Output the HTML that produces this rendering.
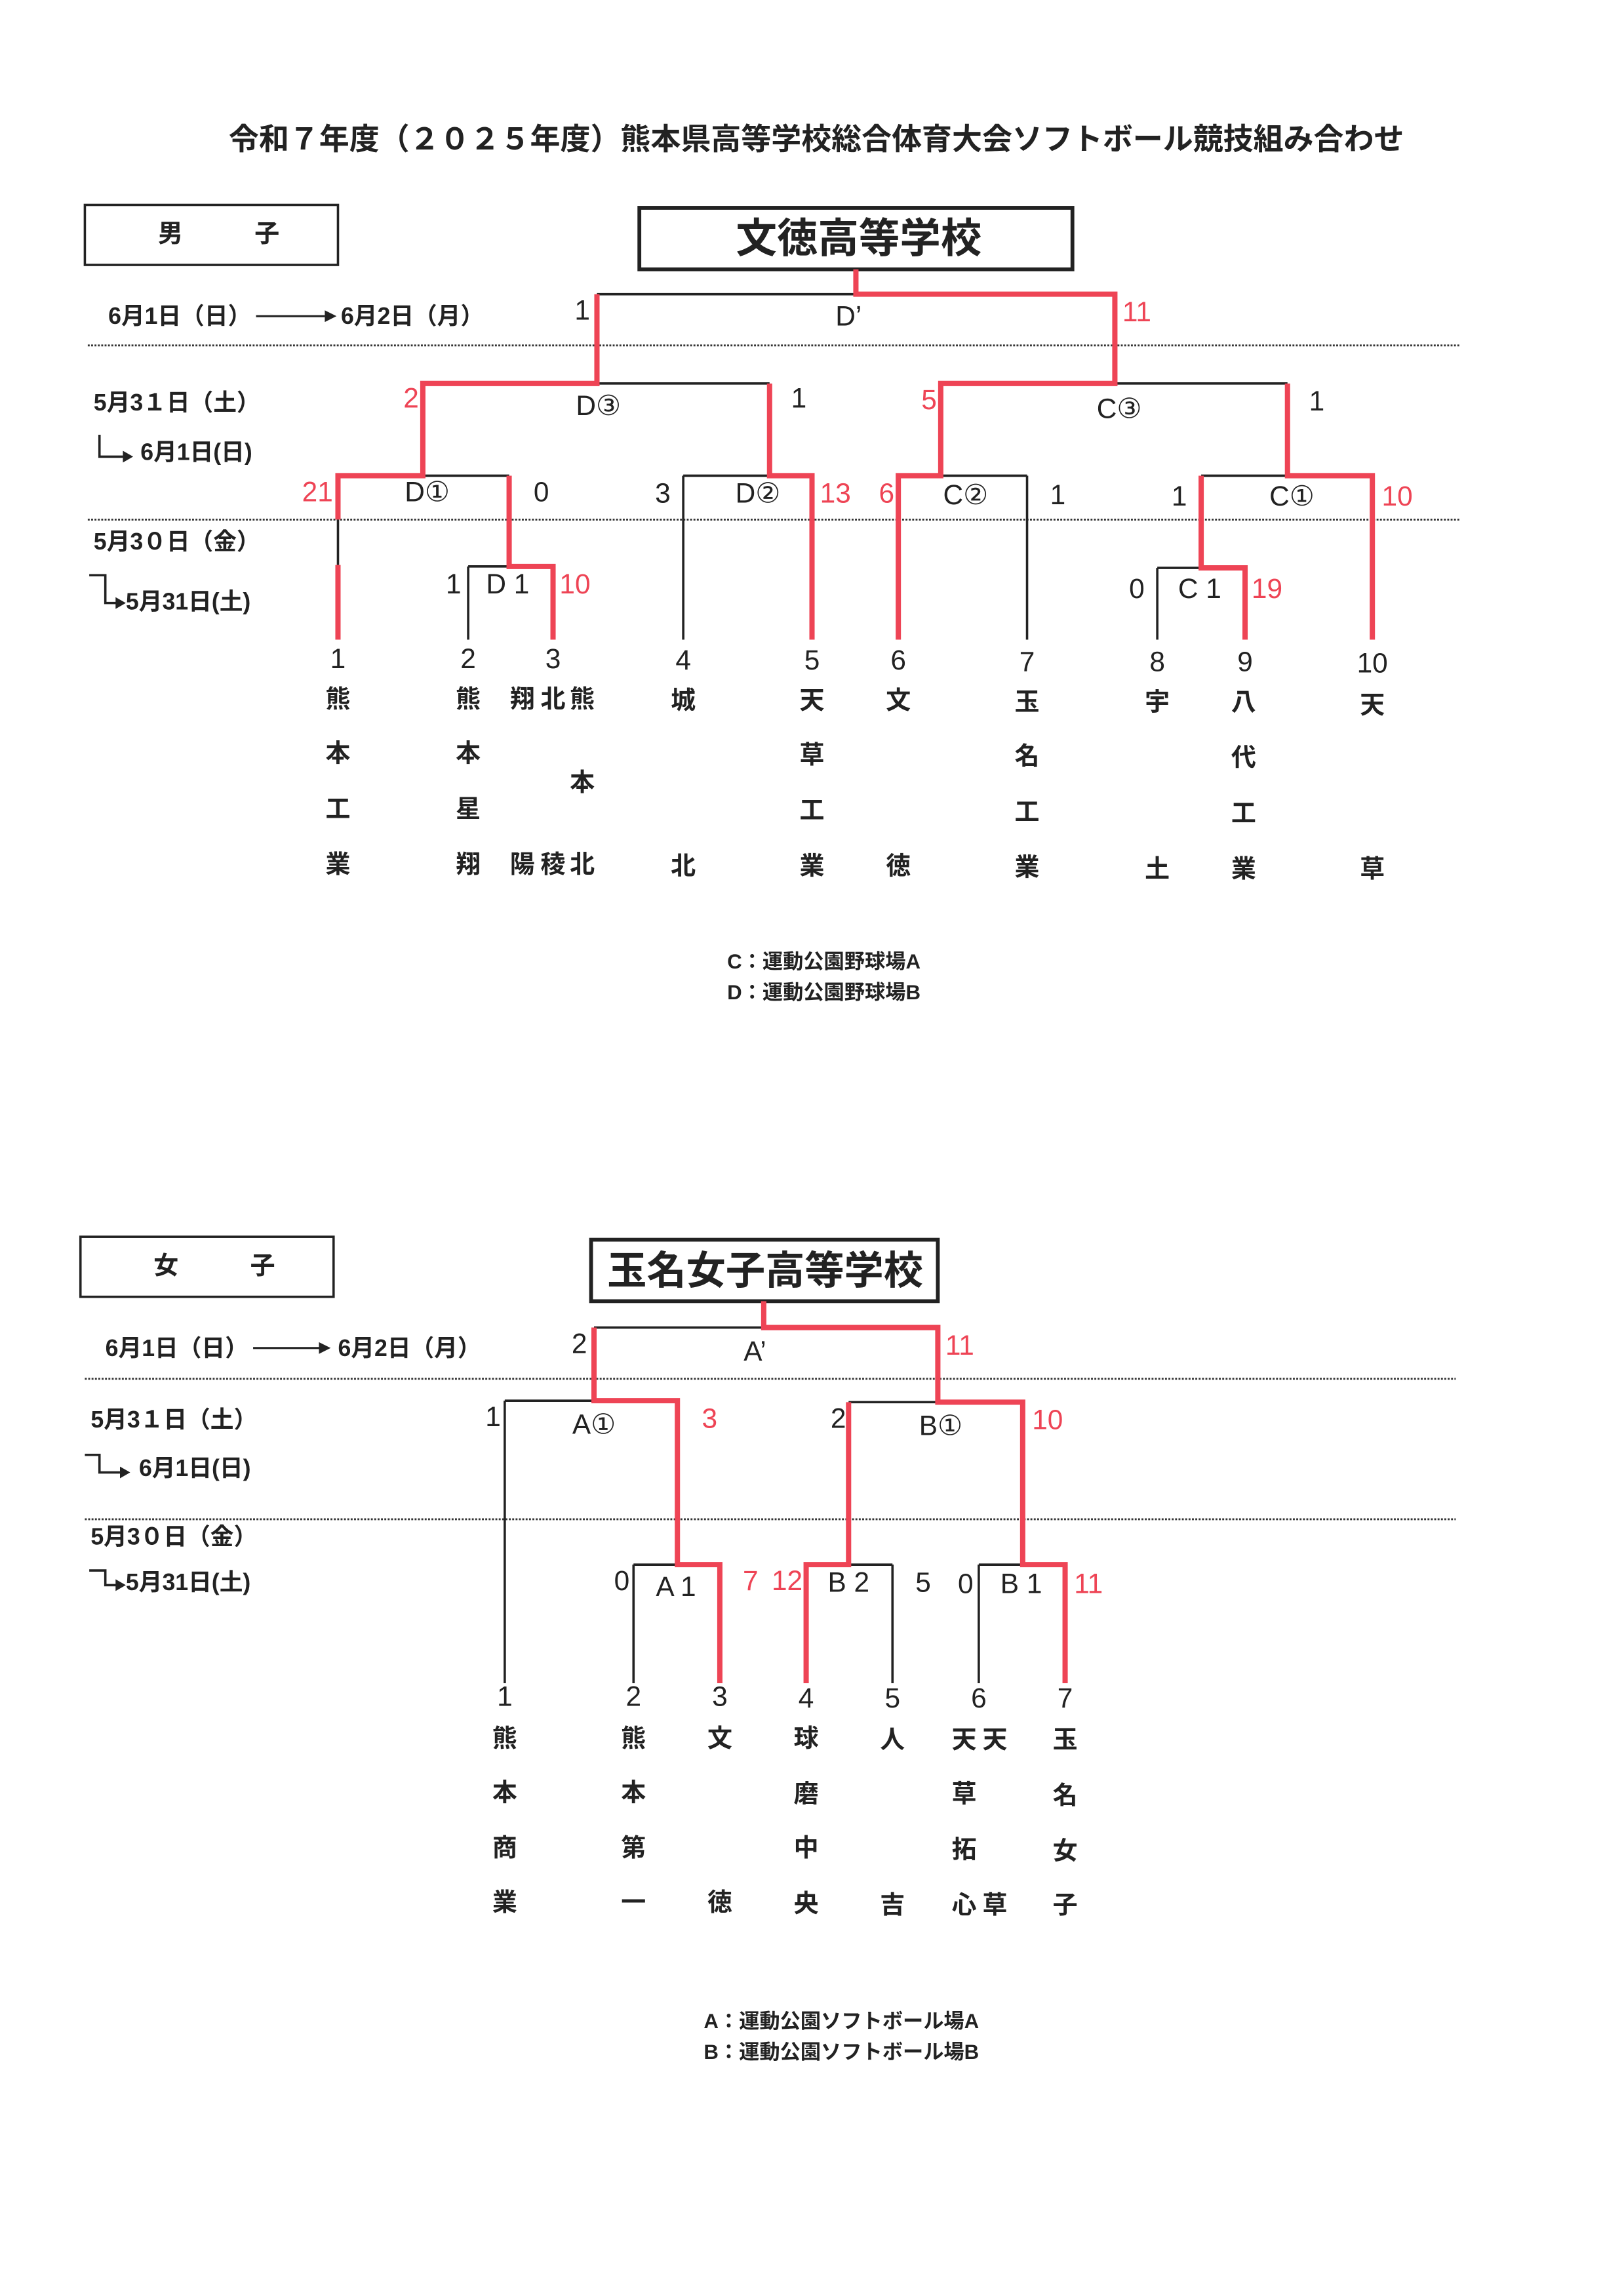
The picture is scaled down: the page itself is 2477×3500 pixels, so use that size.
<!DOCTYPE html>
<html><head><meta charset="utf-8"><style>
html,body{margin:0;padding:0;background:#fff;}
svg{display:block;}
text{font-family:"Liberation Sans","Noto Sans CJK JP",sans-serif;font-weight:bold;fill:#222;dominant-baseline:central;}
.n{font-family:"Liberation Sans Narrow","Liberation Sans",sans-serif;font-weight:normal;font-size:19px;text-anchor:middle;}
.r{fill:#ee4455;}
.nm{font-size:17px;text-anchor:middle;}
.dt{font-size:16px;}
.k{stroke:#222;stroke-width:1.6;fill:none;}
.rd{stroke:#ee4455;stroke-width:3.6;fill:none;stroke-linejoin:miter;}
.dot{stroke:#333;stroke-width:1.3;stroke-dasharray:1.3 1;}
</style></head><body>
<svg width="2477" height="3500" viewBox="0 0 1110 1568" preserveAspectRatio="none">
<rect width="1110" height="1568" fill="#fff"/>
<text x="558" y="95" font-size="20.6" text-anchor="middle">令和７年度（２０２５年度）熊本県高等学校総合体育大会ソフトボール競技組み合わせ</text>

<!-- ===== MALE ===== -->
<rect x="58" y="140" width="173" height="41" fill="none" stroke="#222" stroke-width="1.6"/>
<text x="108" y="160" font-size="17">男</text><text x="174" y="160" font-size="17">子</text>
<rect x="437" y="142" width="296" height="42" fill="none" stroke="#222" stroke-width="2.6"/>
<text x="587" y="163" font-size="28" text-anchor="middle">文徳高等学校</text>

<text x="74" y="216" class="dt">6月1日（日）</text>
<line x1="175" y1="216" x2="222" y2="216" stroke="#222" stroke-width="1.4"/><polygon points="222,212 230,216 222,220" fill="#222"/>
<text x="233" y="216" class="dt">6月2日（月）</text>
<line x1="60" y1="236" x2="998" y2="236" class="dot"/>
<text x="64" y="275" class="dt">5月3１日（土）</text>
<path d="M68 297 V312 H84" class="k"/><polygon points="84,308 91,312 84,316" fill="#222"/>
<text x="96" y="309" class="dt">6月1日(日)</text>
<line x1="60" y1="355" x2="998" y2="355" class="dot"/>
<text x="64" y="370" class="dt">5月3０日（金）</text>
<path d="M61 393 H72 V412 H80" class="k"/><polygon points="79,408 86,412 79,416" fill="#222"/>
<text x="86" y="411" class="dt">5月31日(土)</text>

<path d="M408 201 H585 M408 262 H526 M289 325 H348 M320 387 H348 M320 387 V437 M467 325 H526 M467 325 V437 M762 262 H880 M643 325 H702 M702 325 V437 M821 325 H880 M791 388 H821 M791 388 V437 M231 355 V386" class="k"/>
<path d="M585 184 V201 H762 V262 H643 V325 H614 V437" class="rd"/>
<path d="M408 201 V262 H289 V325 H231 V355" class="rd"/>
<path d="M231 386 V437" class="rd"/>
<path d="M526 262 V325 H555 V437" class="rd"/>
<path d="M348 325 V387 H378 V437" class="rd"/>
<path d="M880 262 V325 H938 V437" class="rd"/>
<path d="M821 325 V388 H851 V437" class="rd"/>

<text x="398" y="212" class="n">1</text><text x="580" y="216" class="n">D’</text><text x="777" y="213" class="n r">11</text>
<text x="281" y="272" class="n r">2</text><text x="409" y="277" class="n">D③</text><text x="546" y="272" class="n">1</text>
<text x="217" y="336" class="n r">21</text><text x="292" y="336" class="n">D①</text><text x="370" y="336" class="n">0</text>
<text x="310" y="399" class="n">1</text><text x="347" y="399" class="n">D 1</text><text x="393" y="399" class="n r">10</text>
<text x="453" y="337" class="n">3</text><text x="518" y="337" class="n">D②</text><text x="571" y="337" class="n r">13</text>
<text x="635" y="273" class="n r">5</text><text x="765" y="279" class="n">C③</text><text x="900" y="274" class="n">1</text>
<text x="606" y="337" class="n r">6</text><text x="660" y="338" class="n">C②</text><text x="723" y="338" class="n">1</text>
<text x="806" y="339" class="n">1</text><text x="883" y="339" class="n">C①</text><text x="955" y="339" class="n r">10</text>
<text x="777" y="402" class="n">0</text><text x="820" y="402" class="n">C 1</text><text x="866" y="402" class="n r">19</text>

<text x="231" y="450" class="n">1</text><text x="320" y="450" class="n">2</text><text x="378" y="450" class="n">3</text><text x="467" y="451" class="n">4</text><text x="555" y="451" class="n">5</text><text x="614" y="451" class="n">6</text><text x="702" y="452" class="n">7</text><text x="791" y="452" class="n">8</text><text x="851" y="452" class="n">9</text><text x="938" y="453" class="n">10</text>
<g>
<text x="231" y="478" class="nm">熊</text><text x="231" y="515" class="nm">本</text><text x="231" y="553" class="nm">工</text><text x="231" y="591" class="nm">業</text>
<text x="320" y="478" class="nm">熊</text><text x="320" y="515" class="nm">本</text><text x="320" y="553" class="nm">星</text><text x="320" y="591" class="nm">翔</text>
<text x="357" y="478" class="nm">翔</text><text x="378" y="478" class="nm">北</text><text x="398" y="478" class="nm">熊</text><text x="398" y="535" class="nm">本</text>
<text x="357" y="591" class="nm">陽</text><text x="378" y="591" class="nm">稜</text><text x="398" y="591" class="nm">北</text>
<text x="467" y="479" class="nm">城</text><text x="467" y="592" class="nm">北</text>
<text x="555" y="479" class="nm">天</text><text x="555" y="516" class="nm">草</text><text x="555" y="554" class="nm">工</text><text x="555" y="592" class="nm">業</text>
<text x="614" y="479" class="nm">文</text><text x="614" y="592" class="nm">徳</text>
<text x="702" y="480" class="nm">玉</text><text x="702" y="517" class="nm">名</text><text x="702" y="555" class="nm">工</text><text x="702" y="593" class="nm">業</text>
<text x="791" y="480" class="nm">宇</text><text x="791" y="594" class="nm">土</text>
<text x="850" y="480" class="nm">八</text><text x="850" y="518" class="nm">代</text><text x="850" y="556" class="nm">工</text><text x="850" y="594" class="nm">業</text>
<text x="938" y="482" class="nm">天</text><text x="938" y="594" class="nm">草</text>
</g>
<text x="497" y="657" font-size="14">C：運動公園野球場A</text>
<text x="497" y="678" font-size="14">D：運動公園野球場B</text>

<!-- ===== FEMALE ===== -->
<rect x="55" y="845" width="173" height="41" fill="none" stroke="#222" stroke-width="1.6"/>
<text x="105" y="865" font-size="17">女</text><text x="171" y="865" font-size="17">子</text>
<rect x="404" y="847" width="237" height="42" fill="none" stroke="#222" stroke-width="2.6"/>
<text x="523" y="868" font-size="27" text-anchor="middle">玉名女子高等学校</text>

<text x="72" y="921" class="dt">6月1日（日）</text>
<line x1="173" y1="921" x2="218" y2="921" stroke="#222" stroke-width="1.4"/><polygon points="218,917 226,921 218,925" fill="#222"/>
<text x="231" y="921" class="dt">6月2日（月）</text>
<line x1="58" y1="942" x2="995" y2="942" class="dot"/>
<text x="62" y="970" class="dt">5月3１日（土）</text>
<path d="M58 994 H68 V1006 H82" class="k"/><polygon points="82,1002 89,1006 82,1010" fill="#222"/>
<text x="95" y="1003" class="dt">6月1日(日)</text>
<line x1="58" y1="1038" x2="995" y2="1038" class="dot"/>
<text x="62" y="1050" class="dt">5月3０日（金）</text>
<path d="M61 1073 H72 V1083 H80" class="k"/><polygon points="79,1079 86,1083 79,1087" fill="#222"/>
<text x="86" y="1081" class="dt">5月31日(土)</text>

<path d="M406 907 H522 M345 957 H406 M345 957 V1150 M433 1069 H463 M433 1069 V1150 M580 958 H641 M580 1069 H610 M610 1069 V1150 M669 1069 H699 M669 1069 V1150" class="k"/>
<path d="M522 889 V907 H641 V958 H699 V1069 H728 V1150" class="rd"/>
<path d="M406 907 V957 H463 V1069 H492 V1150" class="rd"/>
<path d="M580 958 V1069 H551 V1150" class="rd"/>

<text x="396" y="918" class="n">2</text><text x="516" y="923" class="n">A’</text><text x="656" y="919" class="n r">11</text>
<text x="337" y="968" class="n">1</text><text x="406" y="973" class="n">A①</text><text x="485" y="969" class="n r">3</text>
<text x="425" y="1080" class="n">0</text><text x="462" y="1084" class="n">A 1</text><text x="513" y="1080" class="n r">7</text>
<text x="573" y="969" class="n">2</text><text x="643" y="974" class="n">B①</text><text x="716" y="970" class="n r">10</text>
<text x="538" y="1080" class="n r">12</text><text x="580" y="1081" class="n">B 2</text><text x="631" y="1081" class="n">5</text>
<text x="660" y="1082" class="n">0</text><text x="698" y="1082" class="n">B 1</text><text x="744" y="1082" class="n r">11</text>

<text x="345" y="1159" class="n">1</text><text x="433" y="1159" class="n">2</text><text x="492" y="1159" class="n">3</text><text x="551" y="1160" class="n">4</text><text x="610" y="1160" class="n">5</text><text x="669" y="1160" class="n">6</text><text x="728" y="1160" class="n">7</text>
<g>
<text x="345" y="1188" class="nm">熊</text><text x="345" y="1225" class="nm">本</text><text x="345" y="1263" class="nm">商</text><text x="345" y="1300" class="nm">業</text>
<text x="433" y="1188" class="nm">熊</text><text x="433" y="1225" class="nm">本</text><text x="433" y="1263" class="nm">第</text><text x="433" y="1300" class="nm">一</text>
<text x="492" y="1188" class="nm">文</text><text x="492" y="1300" class="nm">徳</text>
<text x="551" y="1188" class="nm">球</text><text x="551" y="1226" class="nm">磨</text><text x="551" y="1263" class="nm">中</text><text x="551" y="1301" class="nm">央</text>
<text x="610" y="1189" class="nm">人</text><text x="610" y="1302" class="nm">吉</text>
<text x="659" y="1189" class="nm">天</text><text x="680" y="1189" class="nm">天</text><text x="659" y="1226" class="nm">草</text><text x="659" y="1264" class="nm">拓</text><text x="659" y="1302" class="nm">心</text><text x="680" y="1302" class="nm">草</text>
<text x="728" y="1189" class="nm">玉</text><text x="728" y="1227" class="nm">名</text><text x="728" y="1265" class="nm">女</text><text x="728" y="1302" class="nm">子</text>
</g>
<text x="481" y="1381" font-size="14">A：運動公園ソフトボール場A</text>
<text x="481" y="1402" font-size="14">B：運動公園ソフトボール場B</text>
</svg>
</body></html>
